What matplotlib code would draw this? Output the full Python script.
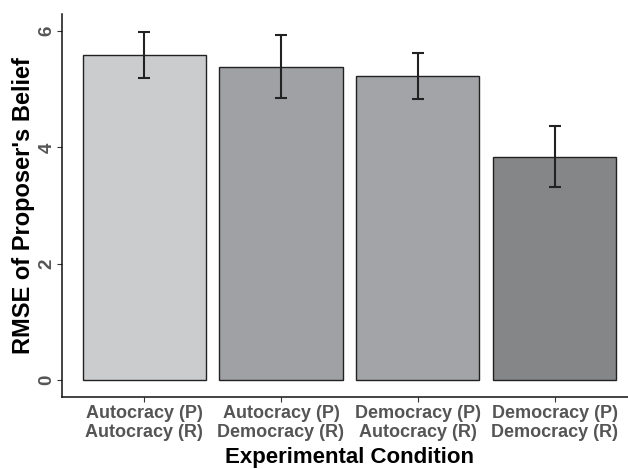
import matplotlib
matplotlib.use('Agg')
import matplotlib.pyplot as plt

conditions = ['Autocracy (P)\nAutocracy (R)', 'Autocracy (P)\nDemocracy (R)',
              'Democracy (P)\nAutocracy (R)', 'Democracy (P)\nDemocracy (R)']
rmse = [5.58, 5.38, 5.22, 3.83]
err_low = [5.19, 4.85, 4.83, 3.32]
err_high = [5.98, 5.93, 5.62, 4.36]
colors = ['#cbcccd', '#a0a1a4', '#a3a4a7', '#858688']

plt.rcParams['font.family'] = ['Liberation Sans', 'DejaVu Sans']

fig = plt.figure(figsize=(6.28, 4.69), dpi=100)
ax = fig.add_axes([0.0987, 0.1535, 1.014 - 0.0987, 0.970 - 0.1535])

x = list(range(1, len(conditions) + 1))
ax.bar(x, rmse, width=0.9, color=colors, edgecolor='#222222', linewidth=1.0, zorder=2)
yerr = [[r - l for r, l in zip(rmse, err_low)], [h - r for r, h in zip(rmse, err_high)]]
ax.errorbar(x, rmse, yerr=yerr, fmt='none', ecolor='#222222', elinewidth=1.5,
            capsize=4.5, capthick=1.5, zorder=3)

ax.set_xlim(0.4, 4.6)
ax.set_ylim(-0.29, 6.29)
ax.set_xticks(x)
ax.set_xticklabels(conditions, fontsize=13, fontweight='bold', color='#555555', linespacing=1.2)
ax.set_yticks([0, 2, 4, 6])
ax.set_yticklabels(['0', '2', '4', '6'], fontsize=13.5, fontweight='bold', color='#555555',
                   rotation=90, va='center')
ax.tick_params(axis='both', length=3.5, width=0.8, color='#333333')
ax.tick_params(axis='y', pad=1)
ax.tick_params(axis='x', pad=2)
ax.spines['top'].set_visible(False)
ax.spines['right'].set_visible(False)
for s in ['left', 'bottom']:
    ax.spines[s].set_linewidth(1.1)
    ax.spines[s].set_color('#111111')

ax.set_xlabel('Experimental Condition', fontsize=16, fontweight='bold', labelpad=4)
ax.set_ylabel("RMSE of Proposer's Belief", fontsize=17, fontweight='bold', labelpad=3)

fig.savefig('out.png', dpi=100)
